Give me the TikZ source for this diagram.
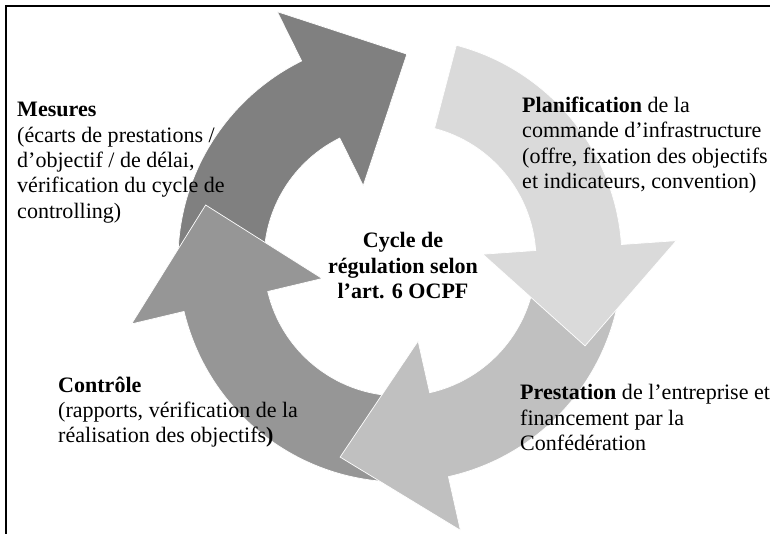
\documentclass[tikz,border=0pt]{standalone}
\usepackage{fontspec}
\setmainfont{Liberation Serif}
\usepackage{tikz}
\definecolor{mesuresgray}{HTML}{808080}
\definecolor{controlegray}{HTML}{969696}
\definecolor{prestationgray}{HTML}{C0C0C0}
\definecolor{planifgray}{HTML}{DADADA}

\begin{document}
\begin{tikzpicture}[x=0.03cm,y=0.03cm,
		ringarrow/.style={draw=white, line width=0.6pt},
		blocktext/.style={anchor=base west, align=left, font=\fontsize{18.8}{21.6}\selectfont}]
	\tikzstyle{every node}+=[inner sep=0pt]
	\useasboundingbox (0,0) rectangle (770,534);
	\draw [black, line width=1.7pt] (6,0) -- (6,528) -- (770,528);
	% ring of four arrows, centre (400,274)
	\begin{scope}[shift={(400,274)}]
		\draw [ringarrow, fill=mesuresgray] (180:222) arc [start angle=180, end angle=116.3, radius=222] -- (116.3:277) -- (88.1:206) -- (116.3:83) -- (116.3:136) arc [start angle=116.3, end angle=180, radius=136] -- cycle;
		\draw [ringarrow, fill=controlegray] (268:222) arc [start angle=268, end angle=193.4, radius=222] -- (193.4:276) -- (164.2:202) -- (193.4:80) -- (193.4:136) arc [start angle=193.4, end angle=268, radius=136] -- cycle;
		\draw [ringarrow, fill=prestationgray] (-10:222) arc [start angle=-10, end angle=-77.4, radius=222] -- (-77.4:277) -- (-106.9:206) -- (-77.4:83) -- (-77.4:136) arc [start angle=-77.4, end angle=-10, radius=136] -- cycle;
		\draw [ringarrow, fill=planifgray] (75.3:222) arc [start angle=75.3, end angle=4, radius=222] -- (4:277) -- (-24.9:204) -- (4:83) -- (4:136) arc [start angle=4, end angle=75.3, radius=136] -- cycle;
	\end{scope}
	% base anchor sits on the last line of each block
	\node [blocktext] (mesures) at (17,315.8) {\textbf{Mesures}\\(écarts de prestations /\\d’objectif / de délai,\\vérification du cycle de\\controlling)};
	\node [blocktext] (planif) at (522,345.4) {\textbf{Planification} de la\\commande d’infrastructure\\(offre, fixation des objectifs\\et indicateurs, convention)};
	\node [blocktext] (prestation) at (520,83.4) {\textbf{Prestation} de l’entreprise et\\financement par la\\Confédération};
	\node [blocktext] (controle) at (58,91.1) {\textbf{Contrôle}\\(rapports, vérification de la\\réalisation des objectifs\textbf{)}};
	\node [anchor=base, align=center, font=\fontsize{18.8}{21.6}\selectfont\bfseries] (centre) at (403,235.4) {Cycle de\\régulation selon\\l’art. 6 OCPF};
\end{tikzpicture}
\end{document}
